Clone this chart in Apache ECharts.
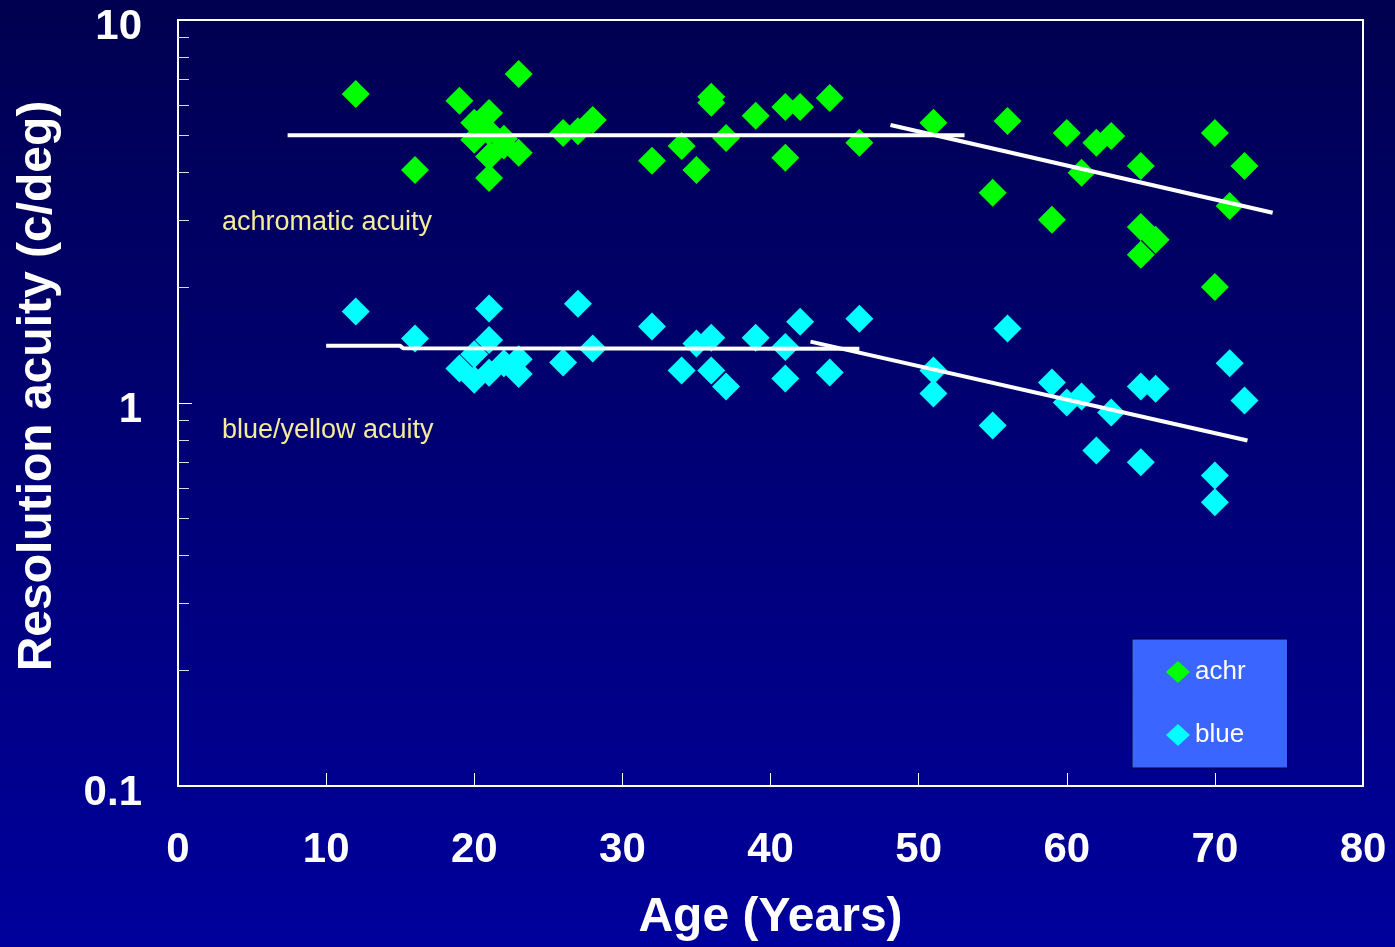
<!DOCTYPE html>
<html>
<head>
<meta charset="utf-8">
<title>Resolution acuity vs age</title>
<script src="https://cdn.jsdelivr.net/npm/echarts@6/dist/echarts.min.js"></script>
<style>
  html, body { margin: 0; padding: 0; }
  #chart { width: 1395px; height: 947px; }
</style>
</head>
<body>
<div id="chart"></div>
<script>
// achromatic acuity (green)
const achrAge = [12, 16, 19, 20, 20, 21, 21, 21, 21, 22, 22, 23, 23, 26, 27, 28, 32, 34, 35, 36, 36, 37, 39, 41, 41, 42, 44, 46,
  51, 55, 56, 59, 60, 61, 62, 63, 65, 65, 65, 66, 70, 70, 71, 72]
const achrAcuity = [6.41, 4.06, 6.15, 5.39, 4.87, 5.72, 5.10, 4.40, 3.87, 4.90, 4.70, 7.23, 4.50, 5.07, 5.12, 5.48, 4.29, 4.69, 4.06, 6.30, 6.08, 4.92, 5.62, 5.93, 4.37, 5.93, 6.26, 4.78,
  5.39, 3.54, 5.45, 3.01, 5.07, 3.99, 4.78, 4.98, 4.16, 2.88, 2.44, 2.67, 5.07, 2.01, 3.27, 4.16]

// blue/yellow acuity (cyan)
const blueAge = [12, 16, 19, 20, 20, 21, 21, 21, 22, 23, 23, 26, 27, 28, 32, 34, 35, 36, 36, 37, 39, 41, 41, 42, 44, 46,
  51, 51, 55, 56, 59, 60, 61, 62, 63, 65, 65, 66, 70, 70, 71, 72]
const blueAcuity = [1.733, 1.473, 1.23, 1.34, 1.15, 1.764, 1.46, 1.20, 1.27, 1.30, 1.19, 1.275, 1.817, 1.387, 1.583, 1.216, 1.43, 1.48, 1.216, 1.104, 1.48, 1.40, 1.158, 1.63, 1.201, 1.66,
  1.216, 1.059, 0.874, 1.564, 1.131, 1.003, 1.04, 0.752, 0.944, 1.104, 0.70, 1.09, 0.647, 0.551, 1.27, 1.015]

// fitted lines
const achrFlatAge = [7.4, 53.1]
const achrFlatVal = [5.0, 5.0]
const achrSlopeAge = [48.1, 73.9]
const achrSlopeVal = [5.32, 3.14]
const blueFlatAge = [10, 15.0, 15.2, 46]
const blueFlatVal = [1.41, 1.41, 1.39, 1.385]
const blueSlopeAge = [42.7, 72.2]
const blueSlopeVal = [1.446, 0.798]

// axis ticks
const xTicks = [0, 10, 20, 30, 40, 50, 60, 70, 80]
const yLabels = [0.1, 1, 10]
const yMinorTicks = [0.2, 0.3, 0.4, 0.5, 0.6, 0.7, 0.8, 0.9, 2, 3, 4, 5, 6, 7, 8, 9]
const yMajorTicks = [1]

const font = 'Liberation Sans, Arial, sans-serif'

function pairs(xs, ys) {
  return xs.map((x, i) => [x, ys[i]])
}

const chart = echarts.init(document.getElementById('chart'))

const fitLine = (name, xs, ys) => ({
  name,
  type: 'line',
  data: pairs(xs, ys),
  symbol: 'none',
  z: 5,
  silent: true,
  lineStyle: { color: '#ffffff', width: 4 },
})

const option = {
  animation: false,
  backgroundColor: new echarts.graphic.LinearGradient(0, 0, 0, 1, [
    { offset: 0, color: '#000050' },
    { offset: 1, color: '#00009c' },
  ]),
  grid: {
    left: 178,
    right: 32,
    top: 20,
    bottom: 161,
    containLabel: false,
    outerBoundsMode: 'none',
    show: true,
    borderColor: '#ffffff',
    borderWidth: 2,
    backgroundColor: 'transparent',
  },
  legend: {
    data: ['achr', 'blue'],
    orient: 'vertical',
    left: 1132,
    top: 639,
    padding: [20, 42, 20, 34],
    itemGap: 37,
    itemWidth: 24,
    itemHeight: 22,
    backgroundColor: '#3a66ff',
    borderColor: '#000033',
    borderWidth: 1,
    borderRadius: 0,
    textStyle: { color: '#ffffff', fontSize: 26, fontFamily: font },
  },
  xAxis: {
    type: 'value',
    min: 0,
    max: 80,
    interval: 10,
    name: 'Age (Years)',
    nameLocation: 'middle',
    nameGap: 108,
    nameTextStyle: { color: '#ffffff', fontSize: 48, fontWeight: 'bold', fontFamily: font },
    axisLine: { show: true, lineStyle: { color: '#ffffff', width: 2 } },
    axisTick: { show: true, inside: true, length: 13, lineStyle: { color: '#ffffff', width: 1 } },
    axisLabel: {
      color: '#ffffff', fontSize: 42, fontWeight: 'bold', fontFamily: font, margin: 43,
      customValues: xTicks,
    },
    splitLine: { show: false },
  },
  yAxis: [
    {
      type: 'log',
      logBase: 10,
      min: 0.1,
      max: 10,
      name: 'Resolution acuity (c/deg)',
      nameLocation: 'middle',
      nameGap: 116,
      nameTextStyle: { color: '#ffffff', fontSize: 48, fontWeight: 'bold', fontFamily: font, padding: [0, 0, 0, 34] },
      axisLine: { show: true, lineStyle: { color: '#ffffff', width: 2 } },
      axisTick: { show: true, inside: true, length: 11, customValues: yMinorTicks, lineStyle: { color: '#d8d8e8', width: 1 } },
      axisLabel: {
        color: '#ffffff', fontSize: 42, fontWeight: 'bold', fontFamily: font, margin: 36,
        customValues: yLabels,
        formatter: v => '{n|' + v + '}',
        rich: { n: { color: '#ffffff', fontSize: 42, fontWeight: 'bold', fontFamily: font, padding: [14, 0, 0, 0] } },
      },
      splitLine: { show: false },
    },
    {
      type: 'log',
      logBase: 10,
      min: 0.1,
      max: 10,
      position: 'left',
      axisLine: { show: false },
      axisTick: { show: true, inside: true, length: 14, customValues: yMajorTicks, lineStyle: { color: '#ffffff', width: 1 } },
      axisLabel: { show: false },
      splitLine: { show: false },
    },
  ],
  graphic: [
    {
      type: 'text',
      left: 222,
      top: 209,
      style: { text: 'achromatic acuity', fill: '#f4ec9c', font: '27px ' + font },
    },
    {
      type: 'text',
      left: 222,
      top: 417,
      style: { text: 'blue/yellow acuity', fill: '#f4ec9c', font: '27px ' + font },
    },
  ],
  series: [
    {
      name: 'achr',
      type: 'scatter',
      data: pairs(achrAge, achrAcuity),
      symbol: 'diamond',
      symbolSize: [28, 28],
      itemStyle: { color: '#00ff00', opacity: 1 },
      z: 3,
    },
    {
      name: 'blue',
      type: 'scatter',
      data: pairs(blueAge, blueAcuity),
      symbol: 'diamond',
      symbolSize: [28, 28],
      itemStyle: { color: '#00ffff', opacity: 1 },
      z: 3,
    },
    fitLine('achrFlat', achrFlatAge, achrFlatVal),
    fitLine('achrSlope', achrSlopeAge, achrSlopeVal),
    fitLine('blueFlat', blueFlatAge, blueFlatVal),
    fitLine('blueSlope', blueSlopeAge, blueSlopeVal),
  ],
}

chart.setOption(option)
</script>
</body>
</html>
